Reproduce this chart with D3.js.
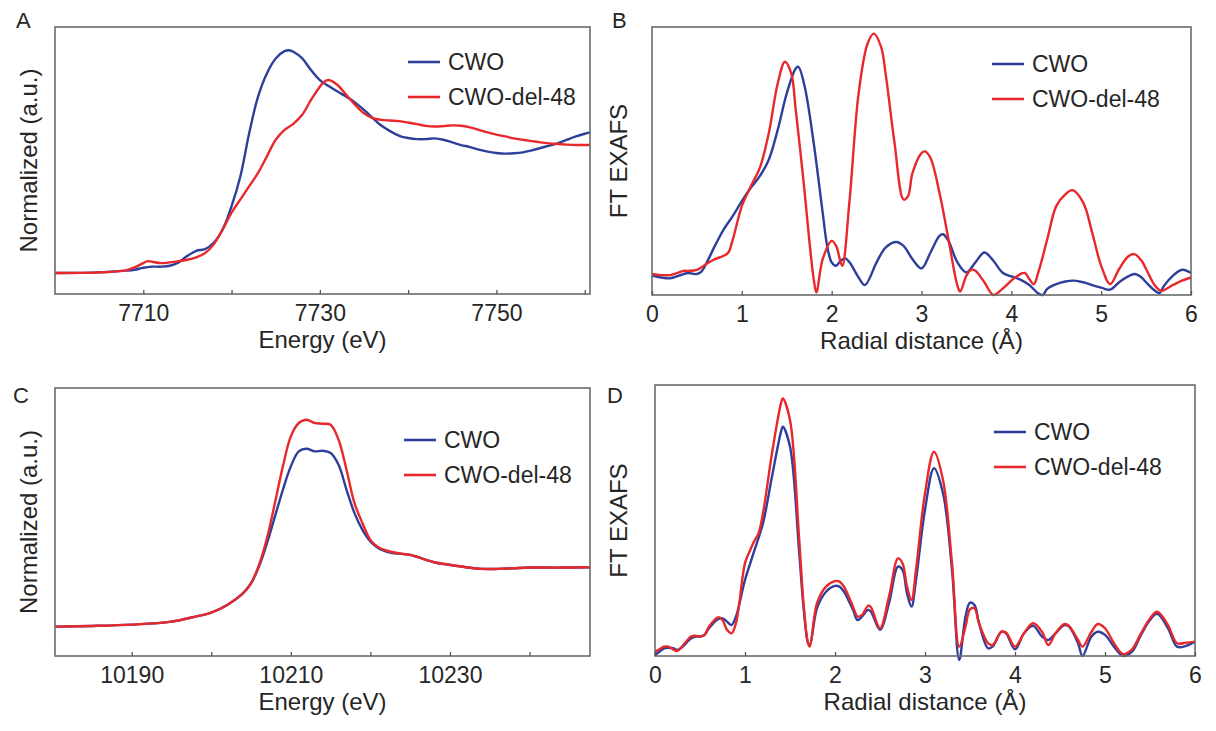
<!DOCTYPE html>
<html>
<head>
<meta charset="utf-8">
<title>XANES / EXAFS</title>
<script src="https://d3js.org/d3.v7.min.js"></script>
<style>
  body { margin: 0; background: #fff; }
  text { font-family: "Liberation Sans", Arial, sans-serif; fill: #262626; }
</style>
</head>
<body>
<svg id="fig" width="1216" height="731"></svg>
<script>
// ---- data ----
var seriesNames = ["CWO", "CWO-del-48"];
var seriesColors = ["#2e3f9b", "#e8282b"];

// A: Cu K-edge XANES (normalized)
var A_cwo = [[7700,0],[7705,0.005],[7708,0.018],[7709,0.025],[7710,0.04],[7711,0.048],[7712,0.048],[7713,0.055],
  [7714,0.08],[7715,0.13],[7716,0.168],[7717,0.18],[7718,0.23],[7719,0.33],[7720,0.505],[7721,0.73],[7722,1.055],
  [7723,1.33],[7724,1.505],[7725,1.618],[7726,1.673],[7726.5,1.68],[7727,1.668],[7728,1.618],[7729,1.53],[7730,1.455],
  [7731,1.41],[7732,1.368],[7733,1.33],[7734,1.285],[7735,1.23],[7736,1.168],[7737,1.11],[7738,1.068],[7739,1.035],
  [7740,1.018],[7741,1.01],[7742,1.01],[7743,1.015],[7744,1.005],[7745,0.985],[7746,0.965],[7747,0.95],[7748,0.93],
  [7749,0.915],[7750,0.905],[7751,0.9],[7752,0.903],[7753,0.91],[7754,0.925],[7755,0.943],[7756,0.96],[7757,0.98],
  [7758,1.005],[7759,1.03],[7760,1.05],[7760.6,1.06]];
var A_del = [[7700,0],[7705,0.005],[7708,0.02],[7709,0.043],[7710,0.075],[7710.5,0.09],[7711,0.085],[7712,0.075],
  [7713,0.08],[7714,0.09],[7715,0.1],[7716,0.118],[7717,0.15],[7718,0.218],[7719,0.33],[7720,0.455],[7721,0.555],
  [7722,0.655],[7723,0.755],[7724,0.88],[7725,1.005],[7726,1.08],[7727,1.125],[7728,1.193],[7729,1.305],[7730,1.405],
  [7730.5,1.443],[7731,1.455],[7732,1.418],[7733,1.343],[7734,1.268],[7735,1.205],[7736,1.168],[7737,1.155],
  [7738,1.15],[7739,1.145],[7740,1.135],[7741,1.123],[7742,1.11],[7743,1.105],[7744,1.108],[7745,1.113],[7746,1.11],
  [7747,1.098],[7748,1.08],[7749,1.06],[7750,1.043],[7751,1.03],[7752,1.015],[7753,1.005],[7754,0.995],[7755,0.985],
  [7756,0.978],[7757,0.973],[7758,0.968],[7759,0.965],[7760,0.965],[7760.6,0.965]];

// B: Cu FT-EXAFS
var B_cwo = [[0,0.073],[0.1,0.066],[0.2,0.063],[0.3,0.073],[0.4,0.083],[0.5,0.079],[0.55,0.088],[0.6,0.116],
  [0.7,0.185],[0.8,0.248],[0.9,0.298],[1.0,0.354],[1.1,0.404],[1.2,0.448],[1.3,0.51],[1.4,0.623],[1.5,0.76],
  [1.6,0.854],[1.63,0.86],[1.7,0.785],[1.8,0.573],[1.9,0.31],[1.95,0.185],[2.0,0.123],[2.05,0.11],[2.1,0.129],
  [2.15,0.138],[2.2,0.123],[2.3,0.066],[2.37,0.0375],[2.5,0.123],[2.6,0.179],[2.72,0.2],[2.8,0.185],[2.9,0.135],
  [3.0,0.1],[3.1,0.16],[3.2,0.223],[3.24,0.229],[3.3,0.204],[3.4,0.123],[3.5,0.085],[3.6,0.123],[3.7,0.16],
  [3.8,0.129],[3.9,0.085],[4.0,0.07],[4.1,0.058],[4.2,0.0375],[4.3,0.006],[4.35,0.0],[4.4,0.023],[4.5,0.041],
  [4.6,0.051],[4.7,0.054],[4.8,0.048],[4.9,0.0375],[5.0,0.028],[5.1,0.02],[5.2,0.048],[5.3,0.07],[5.37,0.079],
  [5.45,0.066],[5.5,0.048],[5.6,0.016],[5.65,0.0075],[5.7,0.035],[5.8,0.073],[5.9,0.095],[6.0,0.083]];
var B_del = [[0,0.079],[0.1,0.075],[0.2,0.075],[0.3,0.085],[0.35,0.091],[0.4,0.091],[0.5,0.095],[0.6,0.116],
  [0.7,0.135],[0.8,0.148],[0.85,0.16],[0.9,0.21],[1.0,0.335],[1.1,0.41],[1.2,0.479],[1.3,0.61],[1.4,0.798],
  [1.48,0.879],[1.55,0.835],[1.6,0.698],[1.7,0.385],[1.75,0.21],[1.8,0.06],[1.83,0.01],[1.9,0.135],[2.0,0.204],
  [2.05,0.185],[2.1,0.123],[2.12,0.11],[2.2,0.36],[2.3,0.76],[2.4,0.948],[2.47,0.985],[2.55,0.935],[2.6,0.835],
  [2.7,0.573],[2.8,0.36],[2.85,0.373],[2.9,0.46],[3.0,0.535],[3.04,0.541],[3.1,0.516],[3.2,0.385],[3.3,0.21],
  [3.4,0.035],[3.43,0.013],[3.5,0.073],[3.55,0.095],[3.6,0.091],[3.7,0.048],[3.8,0.0],[3.9,0.023],[4.0,0.054],
  [4.1,0.079],[4.15,0.083],[4.2,0.06],[4.25,0.041],[4.3,0.085],[4.4,0.21],[4.5,0.335],[4.6,0.379],[4.68,0.395],
  [4.8,0.348],[4.9,0.235],[5.0,0.11],[5.1,0.041],[5.2,0.098],[5.3,0.145],[5.37,0.154],[5.45,0.129],[5.5,0.098],
  [5.6,0.035],[5.67,0.016],[5.8,0.038],[5.9,0.054],[6.0,0.066]];

// C: W L3-edge XANES
var C_cwo = [[10180.4,0],[10185,0.011],[10190,0.033],[10195,0.083],[10198,0.167],[10200,0.233],[10202,0.361],
  [10204,0.556],[10205,0.722],[10206,1.0],[10207,1.389],[10208,1.833],[10209,2.278],[10210,2.667],[10211,2.917],
  [10212,2.961],[10213,2.917],[10214,2.928],[10215,2.889],[10216,2.694],[10217,2.278],[10218,1.889],[10219,1.611],
  [10220,1.417],[10221,1.306],[10222,1.25],[10223,1.222],[10224,1.211],[10225,1.194],[10226,1.156],[10227,1.111],
  [10228,1.072],[10230,1.028],[10232,0.989],[10234,0.961],[10236,0.961],[10238,0.972],[10240,0.983],[10244,0.983],
  [10247.6,0.989]];
var C_del = [[10180.4,0],[10185,0.011],[10190,0.033],[10195,0.083],[10198,0.167],[10200,0.233],[10202,0.361],
  [10204,0.556],[10205,0.722],[10206,1.028],[10207,1.472],[10208,2.056],[10209,2.667],[10210,3.167],[10211,3.389],
  [10212,3.444],[10213,3.389],[10214,3.378],[10215,3.361],[10216,3.111],[10217,2.611],[10218,2.056],[10219,1.722],
  [10220,1.444],[10221,1.322],[10222,1.267],[10223,1.233],[10224,1.211],[10225,1.194],[10226,1.156],[10227,1.111],
  [10228,1.072],[10230,1.028],[10232,0.989],[10234,0.961],[10236,0.961],[10238,0.972],[10240,0.983],[10244,0.983],
  [10247.6,0.989]];

// D: W FT-EXAFS
var D_cwo = [[0,0.004],[0.05,0.016],[0.1,0.029],[0.15,0.031],[0.2,0.029],[0.25,0.023],[0.3,0.033],[0.4,0.066],
  [0.45,0.073],[0.5,0.073],[0.55,0.079],[0.6,0.104],[0.7,0.138],[0.75,0.141],[0.8,0.129],[0.85,0.116],[0.9,0.148],
  [1.0,0.285],[1.1,0.391],[1.2,0.498],[1.3,0.673],[1.4,0.841],[1.42,0.86],[1.5,0.785],[1.6,0.398],[1.65,0.185],
  [1.7,0.05],[1.72,0.041],[1.8,0.179],[1.9,0.241],[2.0,0.263],[2.05,0.26],[2.1,0.241],[2.2,0.173],[2.25,0.135],
  [2.3,0.148],[2.37,0.173],[2.4,0.166],[2.5,0.098],[2.6,0.198],[2.7,0.335],[2.75,0.323],[2.8,0.235],[2.85,0.185],
  [2.9,0.285],[3.0,0.548],[3.1,0.704],[3.2,0.61],[3.3,0.323],[3.38,-0.015],[3.45,0.148],[3.5,0.2],[3.55,0.191],
  [3.6,0.123],[3.7,0.029],[3.75,0.035],[3.85,0.091],[3.9,0.085],[4.0,0.025],[4.1,0.085],[4.2,0.113],[4.3,0.073],
  [4.37,0.06],[4.45,0.085],[4.55,0.116],[4.6,0.11],[4.7,0.048],[4.75,0.0],[4.85,0.073],[4.92,0.091],[5.0,0.079],
  [5.1,0.035],[5.2,0.0],[5.3,0.016],[5.4,0.079],[5.5,0.135],[5.58,0.158],[5.7,0.104],[5.8,0.035],[5.9,0.038],[6.0,0.054]];
var D_del = [[0,0.016],[0.05,0.025],[0.1,0.035],[0.15,0.035],[0.2,0.025],[0.25,0.019],[0.3,0.035],[0.4,0.073],
  [0.45,0.076],[0.5,0.073],[0.55,0.079],[0.6,0.11],[0.7,0.145],[0.75,0.135],[0.8,0.098],[0.85,0.085],[0.9,0.123],
  [1.0,0.348],[1.05,0.391],[1.1,0.429],[1.15,0.46],[1.2,0.535],[1.3,0.76],[1.4,0.948],[1.42,0.966],[1.5,0.885],
  [1.6,0.448],[1.65,0.198],[1.7,0.048],[1.72,0.035],[1.8,0.198],[1.9,0.26],[2.0,0.281],[2.05,0.279],[2.1,0.26],
  [2.2,0.185],[2.25,0.148],[2.3,0.154],[2.37,0.189],[2.4,0.183],[2.5,0.104],[2.6,0.223],[2.7,0.366],[2.75,0.348],
  [2.8,0.26],[2.85,0.21],[2.9,0.323],[3.0,0.61],[3.1,0.766],[3.2,0.66],[3.3,0.348],[3.38,0.035],[3.45,0.11],
  [3.5,0.175],[3.55,0.179],[3.6,0.123],[3.7,0.048],[3.75,0.041],[3.85,0.091],[3.9,0.088],[4.0,0.035],[4.1,0.085],
  [4.2,0.123],[4.3,0.091],[4.37,0.041],[4.45,0.085],[4.55,0.12],[4.6,0.113],[4.7,0.06],[4.75,0.035],[4.85,0.091],
  [4.92,0.12],[5.0,0.104],[5.1,0.048],[5.2,0.0075],[5.3,0.025],[5.4,0.085],[5.5,0.141],[5.58,0.166],[5.7,0.116],
  [5.8,0.048],[5.9,0.05],[6.0,0.054]];

var ticksA = [7710, 7720, 7730, 7740, 7750, 7760], labelsA = [7710, 7730, 7750];
var ticksC = [10190, 10200, 10210, 10220, 10230, 10240], labelsC = [10190, 10210, 10230];
var ticksR = [0, 1, 2, 3, 4, 5, 6];

var svg = d3.select("#fig");

/* one panel: frame, inward ticks, two curves, legend */
function panel(p) {
  var x = d3.scaleLinear().domain(p.xdom).range([p.x0, p.x1]);
  var y = d3.scaleLinear().domain(p.ydom).range([p.y1, p.y0]);
  var g = svg.append("g");

  var line = d3.line()
    .x(function(d) { return x(d[0]); })
    .y(function(d) { return y(d[1]); })
    .curve(d3.curveCatmullRom.alpha(0.5));

  p.series.forEach(function(s, i) {
    g.append("path").datum(s)
      .attr("d", line)
      .attr("fill", "none")
      .attr("stroke", seriesColors[i])
      .attr("stroke-width", 2.4)
      .attr("stroke-linejoin", "round");
  });

  // frame
  g.append("rect")
    .attr("x", p.x0).attr("y", p.y0)
    .attr("width", p.x1 - p.x0).attr("height", p.y1 - p.y0)
    .attr("fill", "none").attr("stroke", "#6b6b6b").attr("stroke-width", 1.6);

  var ax = d3.axisBottom(x).tickValues(p.ticks).tickSizeInner(-4).tickSizeOuter(0)
    .tickFormat(function(d) { return p.labels.indexOf(d) >= 0 ? d : ""; });
  var axg = g.append("g").attr("transform", "translate(0," + p.y1 + ")").call(ax);
  axg.select(".domain").remove();
  axg.selectAll(".tick line").attr("stroke", "#555").attr("stroke-width", 1.3);
  axg.selectAll(".tick text")
    .attr("y", 11).attr("dy", "0.71em")
    .style("font-size", "23px").style("fill", "#262626")
    .style("font-family", "'Liberation Sans', Arial, sans-serif");

  g.append("text")
    .attr("x", (p.x0 + p.x1) / 2).attr("y", p.y1 + 54)
    .attr("text-anchor", "middle").style("font-size", "24px")
    .text(p.xtitle);

  g.append("text")
    .attr("transform", "translate(" + p.ytx + "," + ((p.y0 + p.y1) / 2) + ") rotate(-90)")
    .attr("text-anchor", "middle").style("font-size", "24px")
    .text(p.ytitle);

  g.append("text")
    .attr("x", p.letter[0]).attr("y", p.letter[1])
    .style("font-size", "22px").text(p.name);

  // legend
  seriesNames.forEach(function(n, i) {
    var ly = p.leg[1] + i * 35;
    g.append("line")
      .attr("x1", p.leg[0]).attr("x2", p.leg[0] + 32)
      .attr("y1", ly).attr("y2", ly)
      .attr("stroke", seriesColors[i]).attr("stroke-width", 2.6);
    g.append("text")
      .attr("x", p.leg[0] + 40).attr("y", ly + 8)
      .style("font-size", "23px").text(n);
  });
}

panel({ name: "A", letter: [16, 28], x0: 55, x1: 590, y0: 27, y1: 294, ytx: 37,
  xdom: [7700, 7760.6], ydom: [-0.158, 1.855], ticks: ticksA, labels: labelsA,
  series: [A_cwo, A_del], xtitle: "Energy (eV)", ytitle: "Normalized (a.u.)", leg: [408, 62] });

panel({ name: "B", letter: [612, 28], x0: 652, x1: 1191, y0: 27, y1: 295, ytx: 627,
  xdom: [0, 6], ydom: [0, 1.01], ticks: ticksR, labels: ticksR,
  series: [B_cwo, B_del], xtitle: "Radial distance (\u00C5)", ytitle: "FT EXAFS", leg: [992, 64] });

panel({ name: "C", letter: [13, 403], x0: 55, x1: 590, y0: 388, y1: 656, ytx: 37,
  xdom: [10180.36, 10247.6], ydom: [-0.489, 3.972], ticks: ticksC, labels: labelsC,
  series: [C_cwo, C_del], xtitle: "Energy (eV)", ytitle: "Normalized (a.u.)", leg: [404, 440] });

panel({ name: "D", letter: [607, 403], x0: 655, x1: 1195, y0: 385, y1: 656, ytx: 627,
  xdom: [0, 6], ydom: [0, 1.016], ticks: ticksR, labels: ticksR,
  series: [D_cwo, D_del], xtitle: "Radial distance (\u00C5)", ytitle: "FT EXAFS", leg: [994, 432] });
</script>
</body>
</html>
